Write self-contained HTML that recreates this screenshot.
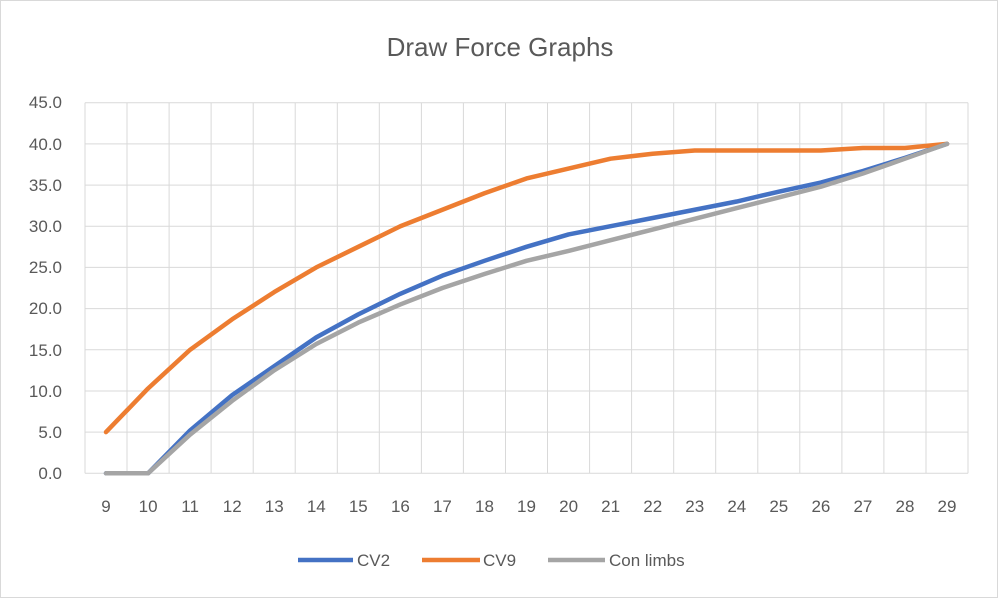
<!DOCTYPE html>
<html><head><meta charset="utf-8"><style>
html,body{margin:0;padding:0;background:#fff;}
svg{display:block;font-family:"Liberation Sans",sans-serif;}
</style></head><body>
<svg width="1000" height="603" viewBox="0 0 1000 603">
<rect x="0.5" y="0.5" width="997" height="597" fill="#fff" stroke="#d9d9d9"/>
<text x="500" y="56" font-size="26" fill="#595959" text-anchor="middle">Draw Force Graphs</text>
<g stroke="#d9d9d9" stroke-width="1">
<line x1="85" y1="102.7" x2="968" y2="102.7"/><line x1="85" y1="143.9" x2="968" y2="143.9"/><line x1="85" y1="185.1" x2="968" y2="185.1"/><line x1="85" y1="226.2" x2="968" y2="226.2"/><line x1="85" y1="267.4" x2="968" y2="267.4"/><line x1="85" y1="308.6" x2="968" y2="308.6"/><line x1="85" y1="349.8" x2="968" y2="349.8"/><line x1="85" y1="391" x2="968" y2="391"/><line x1="85" y1="432.1" x2="968" y2="432.1"/><line x1="85" y1="473.3" x2="968" y2="473.3"/>
<line x1="85" y1="102.7" x2="85" y2="473.3"/><line x1="127" y1="102.7" x2="127" y2="473.3"/><line x1="169.1" y1="102.7" x2="169.1" y2="473.3"/><line x1="211.1" y1="102.7" x2="211.1" y2="473.3"/><line x1="253.2" y1="102.7" x2="253.2" y2="473.3"/><line x1="295.2" y1="102.7" x2="295.2" y2="473.3"/><line x1="337.3" y1="102.7" x2="337.3" y2="473.3"/><line x1="379.3" y1="102.7" x2="379.3" y2="473.3"/><line x1="421.4" y1="102.7" x2="421.4" y2="473.3"/><line x1="463.4" y1="102.7" x2="463.4" y2="473.3"/><line x1="505.5" y1="102.7" x2="505.5" y2="473.3"/><line x1="547.5" y1="102.7" x2="547.5" y2="473.3"/><line x1="589.6" y1="102.7" x2="589.6" y2="473.3"/><line x1="631.6" y1="102.7" x2="631.6" y2="473.3"/><line x1="673.7" y1="102.7" x2="673.7" y2="473.3"/><line x1="715.7" y1="102.7" x2="715.7" y2="473.3"/><line x1="757.8" y1="102.7" x2="757.8" y2="473.3"/><line x1="799.8" y1="102.7" x2="799.8" y2="473.3"/><line x1="841.9" y1="102.7" x2="841.9" y2="473.3"/><line x1="883.9" y1="102.7" x2="883.9" y2="473.3"/><line x1="926" y1="102.7" x2="926" y2="473.3"/><line x1="968" y1="102.7" x2="968" y2="473.3"/>
</g>
<g font-size="17" fill="#595959" text-anchor="end">
<text x="62" y="108">45.0</text><text x="62" y="150">40.0</text><text x="62" y="191">35.0</text><text x="62" y="232">30.0</text><text x="62" y="273">25.0</text><text x="62" y="314">20.0</text><text x="62" y="356">15.0</text><text x="62" y="397">10.0</text><text x="62" y="438">5.0</text><text x="62" y="479">0.0</text>
</g>
<g font-size="17" fill="#595959" text-anchor="middle">
<text x="106" y="512">9</text><text x="148.1" y="512">10</text><text x="190.1" y="512">11</text><text x="232.2" y="512">12</text><text x="274.2" y="512">13</text><text x="316.3" y="512">14</text><text x="358.3" y="512">15</text><text x="400.4" y="512">16</text><text x="442.4" y="512">17</text><text x="484.5" y="512">18</text><text x="526.5" y="512">19</text><text x="568.6" y="512">20</text><text x="610.6" y="512">21</text><text x="652.7" y="512">22</text><text x="694.7" y="512">23</text><text x="736.8" y="512">24</text><text x="778.8" y="512">25</text><text x="820.9" y="512">26</text><text x="862.9" y="512">27</text><text x="905" y="512">28</text><text x="947" y="512">29</text>
</g>
<g transform="translate(106,473.3) scale(42.05,-8.236)" fill="none" stroke-width="4.5" stroke-linejoin="round" stroke-linecap="round">
<polyline vector-effect="non-scaling-stroke" stroke="#4472c4" points="0,0 1,0 2,5.2 3,9.5 4,13 5,16.5 6,19.3 7,21.8 8,24 9,25.8 10,27.5 11,29 12,30 13,31 14,32 15,33 16,34.2 17,35.3 18,36.7 19,38.3 20,40"/>
<polyline vector-effect="non-scaling-stroke" stroke="#ed7d31" points="0,5 1,10.3 2,15 3,18.7 4,22 5,25 6,27.5 7,30 8,32 9,34 10,35.8 11,37 12,38.2 13,38.8 14,39.2 15,39.2 16,39.2 17,39.2 18,39.5 19,39.5 20,40"/>
<polyline vector-effect="non-scaling-stroke" stroke="#a5a5a5" points="0,0 1,0 2,4.7 3,8.8 4,12.5 5,15.7 6,18.3 7,20.5 8,22.5 9,24.2 10,25.8 11,27 12,28.3 13,29.6 14,30.9 15,32.2 16,33.5 17,34.8 18,36.4 19,38.2 20,40"/>
</g>
<g stroke-width="4.5">
<line x1="298" y1="560" x2="353" y2="560" stroke="#4472c4"/>
<line x1="422" y1="560" x2="480" y2="560" stroke="#ed7d31"/>
<line x1="548" y1="560" x2="605" y2="560" stroke="#a5a5a5"/>
</g>
<g font-size="17" fill="#595959">
<text x="357" y="566">CV2</text><text x="483" y="566">CV9</text><text x="609" y="566">Con limbs</text>
</g>
</svg>
</body></html>
